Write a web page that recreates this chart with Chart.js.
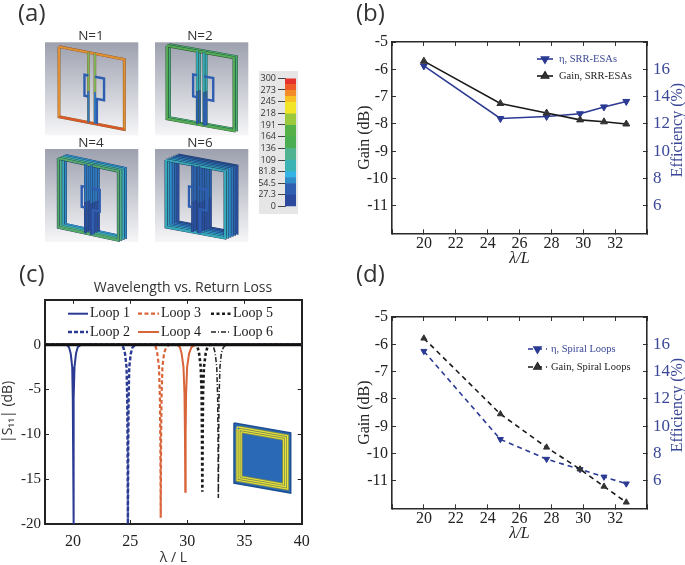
<!DOCTYPE html>
<html>
<head>
<meta charset="utf-8">
<script src="https://cdn.jsdelivr.net/npm/chart.js@4/dist/chart.umd.min.js"></script>
<style>
  html, body { margin: 0; padding: 0; background: #fff; }
  #page { position: relative; width: 685px; height: 565px; overflow: hidden; }
  canvas { position: absolute; display: block; }
  .lbl { position: absolute; white-space: nowrap; color: #333; }
  .panel { font: 24px "Open Sans"; }
  .nlabel { font: 13.5px "Open Sans"; transform: translate(-50%, -50%); }
  .eff { font: 16px "Liberation Serif"; color: #3a4796; transform: translate(-50%, -50%) rotate(-90deg); }
</style>
</head>
<body>
<div id="page">
  <canvas id="decor" width="685" height="565" style="left:0;top:0"></canvas>
  <canvas id="colorbar" width="39" height="143" style="left:259px;top:71px;background:#e6e6e6"></canvas>
  <canvas id="chartB" width="345" height="275" style="left:340px;top:0"></canvas>
  <canvas id="chartC" width="366" height="290" style="left:0;top:275px"></canvas>
  <canvas id="chartD" width="345" height="290" style="left:340px;top:275px"></canvas>
  <div class="lbl panel" style="left:18px;top:-5px">(a)</div>
  <div class="lbl panel" style="left:356px;top:-5px">(b)</div>
  <div class="lbl panel" style="left:19px;top:256px">(c)</div>
  <div class="lbl panel" style="left:356px;top:256px">(d)</div>
  <div class="lbl nlabel" style="left:91px;top:35px">N=1</div>
  <div class="lbl nlabel" style="left:200px;top:35px">N=2</div>
  <div class="lbl nlabel" style="left:91px;top:142px">N=4</div>
  <div class="lbl nlabel" style="left:200px;top:142px">N=6</div>
  <div class="lbl eff" style="left:677px;top:130px">Efficiency (%)</div>
  <div class="lbl eff" style="left:677px;top:405px">Efficiency (%)</div>
</div>
<script>
// lambda/L positions shared by panels b and d
const ratioValues = [20, 24.8, 27.7, 29.8, 31.3, 32.7];

const gainSrr = [-5.7, -7.25, -7.6, -7.85, -7.92, -8.0];
const etaSrr = [16.25, 12.4, 12.55, 12.75, 13.25, 13.65];
const gainSpiral = [-5.78, -8.55, -9.77, -10.57, -11.2, -11.78];
const etaSpiral = [15.5, 9.05, 7.6, 6.85, 6.3, 5.8];

// return loss curves
const baselineX = [17.55, 40];
const baselineY = [0, 0];
const loop1X = [17.55, 19.4, 19.65, 19.8, 19.93, 19.98, 20.005, 20.03, 20.055, 20.08, 20.13, 20.26, 20.41, 20.7, 40];
const loop1Y = [0, 0, -0.3, -1, -2.5, -6, -11, -20, -11, -6, -2.5, -1, -0.3, 0, 0];
const loop2X = [17.55, 24.1, 24.4, 24.55, 24.68, 24.74, 24.77, 24.8, 24.83, 24.86, 24.92, 25.05, 25.2, 25.5, 40];
const loop2Y = [0, 0, -0.3, -1, -2.5, -6, -11, -20, -11, -6, -2.5, -1, -0.3, 0, 0];
const loop3X = [17.55, 27.0, 27.25, 27.36, 27.52, 27.6, 27.64, 27.67, 27.7, 27.74, 27.82, 27.97, 28.15, 28.4, 40];
const loop3Y = [0, 0, -0.3, -0.9, -2.5, -6, -11, -19.3, -11, -6, -2.5, -0.9, -0.3, 0, 0];
const loop4X = [17.55, 29.1, 29.35, 29.5, 29.66, 29.75, 29.79, 29.82, 29.85, 29.89, 29.98, 30.15, 30.35, 30.7, 40];
const loop4Y = [0, 0, -0.3, -1, -2.5, -5.5, -10, -16.4, -10, -5.5, -2.5, -1, -0.3, 0, 0];
const loop5X = [17.55, 30.7, 30.9, 31.03, 31.17, 31.25, 31.28, 31.31, 31.34, 31.37, 31.45, 31.6, 31.75, 32, 40];
const loop5Y = [0, 0, -0.3, -1, -2.5, -5.5, -10, -16.4, -10, -5.5, -2.5, -1, -0.3, 0, 0];
const loop6X = [17.55, 32.1, 32.3, 32.43, 32.57, 32.65, 32.68, 32.71, 32.74, 32.77, 32.85, 32.98, 33.15, 33.4, 40];
const loop6Y = [0, 0, -0.3, -0.9, -2.5, -6, -10.5, -17.1, -10.5, -6, -2.5, -0.9, -0.3, 0, 0];

// colour bar of panel a
const colorbarTicks = [0, 27.3, 54.5, 81.8, 109, 136, 164, 191, 218, 245, 273, 300];
const colorbarBands = [27, 27, 14, 14, 27, 27, 27, 27, 27, 27, 14, 14, 14, 14];
const colorbarColors = ['#2b4a9e', '#2f5db0', '#2f8ccb', '#34b4e4', '#3bb3b5', '#4fb290', '#4bae52', '#55b047',
  '#9cc83c', '#f2e528', '#f7c125', '#f28c28', '#ee5a28', '#e5312b'];

const BLUE = '#2b3a93';
const ORANGE = '#d8643a';
const BLACK = '#1a1a1a';
const AXIS_BLUE = '#3a4796';
const SERIF = '"Liberation Serif"';

function points(xs, ys) {
  return xs.map((x, i) => ({ x: x, y: ys[i] }));
}

// draws a legend at fixed spots using each dataset's own line and marker style
const panelLegend = {
  id: 'panelLegend',
  afterDraw(chart, args, opts) {
    const ctx = chart.ctx;
    (opts.items || []).forEach(item => {
      const ds = chart.data.datasets[item.dataset];
      ctx.save();
      ctx.strokeStyle = ds.borderColor;
      ctx.lineWidth = ds.borderWidth;
      ctx.setLineDash(ds.borderDash || []);
      ctx.beginPath();
      ctx.moveTo(item.x, item.y);
      ctx.lineTo(item.x + item.len, item.y);
      ctx.stroke();
      ctx.setLineDash([]);
      if (ds.pointRadius > 0 || item.marker) {
        Chart.helpers.drawPoint(ctx, {
          pointStyle: ds.pointStyle,
          rotation: ds.pointRotation || 0,
          radius: item.marker || ds.pointRadius,
          borderWidth: 1
        }, item.x + item.len / 2, item.y);
        ctx.fillStyle = ds.pointBackgroundColor;
        ctx.fill();
      }
      ctx.fillStyle = item.color || BLACK;
      ctx.font = opts.font;
      ctx.textBaseline = 'middle';
      ctx.fillText(ds.label, item.x + item.len + opts.gap, item.y);
      ctx.restore();
    });
  }
};

function boxAxis(border, tickColor) {
  return {
    border: { color: border.color, width: border.width },
    grid: { drawOnChartArea: false, drawTicks: true, tickLength: -4, tickColor: tickColor || '#333', tickWidth: 1 }
  };
}

function makeGainChart(id, gain, eta, dash, markerSize, legendItems, legendFont, legendGap) {
  const border = { color: '#2a2a2a', width: 1.6 };
  const hideEnds = (lo, hi) => value => (value === lo || value === hi ? '' : value);
  new Chart(document.getElementById(id), {
    type: 'line',
    plugins: [panelLegend],
    data: {
      datasets: [
        {
          label: 'Gain, ' + legendItems.name,
          data: points(ratioValues, gain),
          yAxisID: 'y',
          borderColor: BLACK,
          borderWidth: 1.6,
          borderDash: dash,
          pointStyle: 'triangle',
          pointRadius: markerSize,
          pointBackgroundColor: '#333',
          pointBorderColor: '#333',
          pointBorderWidth: 1
        },
        {
          label: '\u03b7, ' + legendItems.name,
          data: points(ratioValues, eta),
          yAxisID: 'yRight',
          borderColor: BLUE,
          borderWidth: 1.6,
          borderDash: dash,
          pointStyle: 'triangle',
          pointRotation: 180,
          pointRadius: markerSize,
          pointBackgroundColor: BLUE,
          pointBorderColor: BLUE,
          pointBorderWidth: 1
        }
      ]
    },
    options: {
      responsive: false,
      animation: false,
      layout: { padding: { top: 42, bottom: legendItems.bottom, left: 0, right: 0 } },
      plugins: {
        legend: { display: false },
        tooltip: { enabled: false },
        panelLegend: { items: legendItems.rows, font: legendFont, gap: legendGap }
      },
      scales: {
        x: {
          type: 'linear', min: 18, max: 34, position: 'bottom',
          ...boxAxis(border),
          ticks: { stepSize: 2, maxRotation: 0, autoSkip: false, padding: 5, color: '#222', font: { family: SERIF, size: 16 }, callback: hideEnds(18, 34) },
          title: { display: true, text: '\u03bb/L', color: '#222', padding: 0, font: { family: SERIF, size: 16, style: 'italic' } },
          afterFit: s => { s.height = legendItems.axisH; }
        },
        xTop: {
          type: 'linear', min: 18, max: 34, position: 'top', axis: 'x',
          ...boxAxis(border),
          ticks: { stepSize: 2, display: false },
          afterFit: s => { s.height = 0; }
        },
        y: {
          type: 'linear', min: -12, max: -5, position: 'left',
          ...boxAxis(border),
          ticks: { stepSize: 1, autoSkip: false, padding: 8, color: '#222', font: { family: SERIF, size: 16 }, callback: hideEnds(-12, -99) },
          title: { display: true, text: 'Gain (dB)', color: '#222', padding: { top: 15, bottom: 0 }, font: { family: SERIF, size: 16 } },
          afterFit: s => { s.width = 52; }
        },
        yRight: {
          type: 'linear', min: 4, max: 18, position: 'right',
          ...boxAxis(border),
          ticks: { stepSize: 2, autoSkip: false, padding: 10, color: AXIS_BLUE, font: { family: SERIF, size: 17 }, callback: hideEnds(4, 18) },
          afterFit: s => { s.width = 38; }
        }
      }
    }
  });
}

makeGainChart('chartB', gainSrr, etaSrr, [], 4,
  {
    name: 'SRR-ESAs', bottom: 6.2, axisH: 35.5,
    rows: [
      { dataset: 1, x: 197, y: 59, len: 16, marker: 4, color: '#3a4796' },
      { dataset: 0, x: 197, y: 76, len: 16, marker: 4, color: '#222' }
    ]
  }, '10.5px ' + SERIF, 6);

makeGainChart('chartD', gainSpiral, etaSpiral, [5, 4], 3.5,
  {
    name: 'Spiral Loops', bottom: 21.2, axisH: 35.5,
    rows: [
      { dataset: 1, x: 188, y: 74, len: 19, marker: 4, color: '#3a4796' },
      { dataset: 0, x: 188, y: 92, len: 19, marker: 4, color: '#222' }
    ]
  }, '10.5px ' + SERIF, 4);

function loopSet(label, xs, ys, color, dash, width) {
  return {
    label: label,
    data: points(xs, ys),
    borderColor: color,
    borderWidth: width,
    borderDash: dash,
    pointRadius: 0,
    pointStyle: false
  };
}

const cBorder = { color: '#222', width: 2 };
new Chart(document.getElementById('chartC'), {
  type: 'line',
  plugins: [panelLegend],
  data: {
    datasets: [
      loopSet('baseline', baselineX, baselineY, '#111', [], 3),
      loopSet('Loop 1', loop1X, loop1Y, BLUE, [], 2),
      loopSet('Loop 2', loop2X, loop2Y, BLUE, [4, 2], 2.4),
      loopSet('Loop 3', loop3X, loop3Y, ORANGE, [4, 2.5], 2.2),
      loopSet('Loop 4', loop4X, loop4Y, ORANGE, [], 2),
      loopSet('Loop 5', loop5X, loop5Y, BLACK, [3, 2.5], 2.6),
      loopSet('Loop 6', loop6X, loop6Y, '#222', [5, 2, 1, 2], 1.5)
    ]
  },
  options: {
    responsive: false,
    animation: false,
    layout: { padding: { top: 0, bottom: 0, left: 0, right: 0 } },
    plugins: {
      legend: { display: false },
      tooltip: { enabled: false },
      title: {
        display: true, text: 'Wavelength vs. Return Loss', color: '#333',
        font: { family: '"Open Sans"', size: 14, weight: 'normal' },
        padding: { top: 5, bottom: 3 }
      },
      panelLegend: {
        font: '14px ' + SERIF,
        gap: 2,
        items: [
          { dataset: 1, x: 68, y: 38.7, len: 20 },
          { dataset: 2, x: 68, y: 57, len: 20 },
          { dataset: 3, x: 138, y: 38.7, len: 21 },
          { dataset: 4, x: 138, y: 57, len: 21 },
          { dataset: 5, x: 211, y: 38.7, len: 20 },
          { dataset: 6, x: 211, y: 57, len: 20 }
        ]
      }
    },
    scales: {
      x: {
        type: 'linear', min: 17.55, max: 40, position: 'bottom',
        ...boxAxis(cBorder, '#222'),
        afterBuildTicks: s => { s.ticks = [20, 25, 30, 35, 40].map(v => ({ value: v })); },
        ticks: { autoSkip: false, maxRotation: 0, padding: 12, color: '#222', font: { family: SERIF, size: 16 } },
        title: { display: true, text: '\u03bb / L', color: '#333', padding: 0, font: { family: '"Open Sans"', size: 14, lineHeight: 1 } },
        afterFit: s => { s.height = 41; }
      },
      xTop: {
        type: 'linear', min: 17.55, max: 40, position: 'top', axis: 'x',
        ...boxAxis(cBorder, '#222'),
        afterBuildTicks: s => { s.ticks = [20, 25, 30, 35, 40].map(v => ({ value: v })); },
        ticks: { display: false },
        afterFit: s => { s.height = 0; }
      },
      y: {
        type: 'linear', min: -20, max: 5, position: 'left',
        ...boxAxis(cBorder, '#222'),
        ticks: { stepSize: 5, autoSkip: false, padding: 8, color: '#222', font: { family: SERIF, size: 15 }, callback: v => (v === 5 ? '' : v) },
        title: { display: true, text: '|S\u2081\u2081| (dB)', color: '#333', padding: { top: 0, bottom: 0 }, font: { family: '"Open Sans"', size: 14 } },
        afterFit: s => { s.width = 45; }
      },
      yRight: {
        type: 'linear', min: -20, max: 5, position: 'right',
        ...boxAxis(cBorder, '#222'),
        ticks: { stepSize: 5, display: false },
        afterFit: s => { s.width = 64.3; }
      }
    }
  }
});

new Chart(document.getElementById('colorbar'), {
  type: 'bar',
  data: {
    labels: [''],
    datasets: colorbarBands.map((band, i) => ({
      data: [band],
      backgroundColor: colorbarColors[i],
      borderWidth: 0,
      barPercentage: 1,
      categoryPercentage: 1
    }))
  },
  options: {
    responsive: false,
    animation: false,
    layout: { padding: { top: 3, bottom: 3.3, left: 0, right: 2 } },
    plugins: { legend: { display: false }, tooltip: { enabled: false } },
    scales: {
      x: { stacked: true, display: false },
      y: {
        stacked: true, min: 0, max: 300,
        border: { color: '#555', width: 1 },
        grid: { drawOnChartArea: false, tickLength: 7, tickColor: '#444' },
        afterBuildTicks: s => { s.ticks = colorbarTicks.map(v => ({ value: v })); },
        ticks: { autoSkip: false, padding: 2, color: '#333', font: { family: '"Open Sans"', size: 9 }, callback: v => String(v) },
        afterFit: s => { s.width = 26; }
      }
    }
  }
});

// the antenna renderings of panel a and the inset of panel c are pictures, not data
const dc = document.getElementById('decor').getContext('2d');

function mapper(box, dx, dy) {
  return (u, v) => [box.x + dx + u * box.w, box.y + dy + u * box.skew + v * box.h];
}

function strokePath(map, pts, color, width) {
  dc.strokeStyle = color;
  dc.lineWidth = width;
  dc.lineJoin = 'miter';
  dc.beginPath();
  pts.forEach((p, i) => {
    const xy = map(p[0], p[1]);
    if (i === 0) dc.moveTo(xy[0], xy[1]); else dc.lineTo(xy[0], xy[1]);
  });
  dc.stroke();
}

function drawLoop(map, ring, bottom, slit, slitLow, outline, width) {
  const outer = [[0, 0], [1, 0], [1, 1], [0, 1], [0, 0]];
  strokePath(map, outer, outline, width + 0.9);
  strokePath(map, outer, ring, width);
  strokePath(map, [[0, 1], [1, 1]], bottom, width);
  [0.45, 0.55].forEach(u => {
    strokePath(map, [[u, 0], [u, 1]], outline, width + 0.6);
    strokePath(map, [[u, 0], [u, 0.55]], slit, width);
    strokePath(map, [[u, 0.55], [u, 1]], slitLow, width);
  });
}

function drawFeed(map, color) {
  strokePath(map, [[0.45, 0.33], [0.39, 0.33], [0.39, 0.63], [0.45, 0.63]], color, 2.4);
  strokePath(map, [[0.55, 0.33], [0.69, 0.33], [0.69, 0.64], [0.58, 0.64], [0.58, 1]], color, 2.4);
}

function drawRender(px, py, box, rings, bottom, slit, slitLow, outline) {
  const grad = dc.createLinearGradient(0, py, 0, py + 93);
  grad.addColorStop(0, '#9da1af');
  grad.addColorStop(1, '#f6f6f8');
  dc.fillStyle = grad;
  dc.fillRect(px, py, 93.3, 93);
  for (let i = rings.length - 1; i >= 0; i--) {
    drawLoop(mapper(box, i * 2.4, -i), rings[i], i === 0 ? bottom : rings[i], slit, slitLow, outline, 2);
  }
  drawFeed(mapper(box, 0, 0), '#2f5db0');
}

drawRender(45, 42.3, { x: 59, y: 46.7, w: 65.3, skew: 12.7, h: 70 }, ['#e08f35'], '#d9562b', '#7fb35a', '#2f7cc0', '#8a5a25');
drawRender(155, 42.3, { x: 167, y: 45.7, w: 67, skew: 12, h: 73 }, ['#55ab55', '#4bad7a'], '#55ab55', '#38a8b8', '#2c62ad', '#23502e');
drawRender(45, 149, { x: 58.3, y: 158.3, w: 60, skew: 13, h: 69 }, ['#55ab6a', '#4fae8a', '#3aa9b5', '#2f8ccb'], '#55ab6a', '#2f78bd', '#2b4fa0', '#1f3b5c');
drawRender(155, 149, { x: 166, y: 160, w: 59, skew: 11, h: 67 }, ['#38a8b8', '#36a5c4', '#2f8ccb', '#2f78bd', '#2c62ad', '#2b4fa0'], '#38a8b8', '#2c62ad', '#2b4fa0', '#1f3b5c');

const inset = { x: 234, y: 423, w: 56.7, skew: 10, h: 60 };
const insetMap = mapper(inset, 0, 0);
dc.fillStyle = '#2a69b5';
dc.beginPath();
[[0, 0], [1, 0], [1, 1], [0, 1]].forEach(p => dc.lineTo(insetMap(p[0], p[1])[0], insetMap(p[0], p[1])[1]));
dc.closePath();
dc.fill();
strokePath(insetMap, [[0, 0], [1, 0], [1, 1], [0, 1], [0, 0]], '#1c4f94', 1.5);
const insetBand = [[0.09, 0.09], [0.91, 0.09], [0.91, 0.91], [0.09, 0.91], [0.09, 0.09]];
strokePath(insetMap, insetBand, '#7d8c4c', 7);
[0.055, 0.09, 0.125].forEach(g => {
  const ring = [[g, g], [1 - g, g], [1 - g, 1 - g], [g, 1 - g], [g, g]];
  strokePath(insetMap, ring, '#e8e23c', 1.2);
});
</script>
</body>
</html>
